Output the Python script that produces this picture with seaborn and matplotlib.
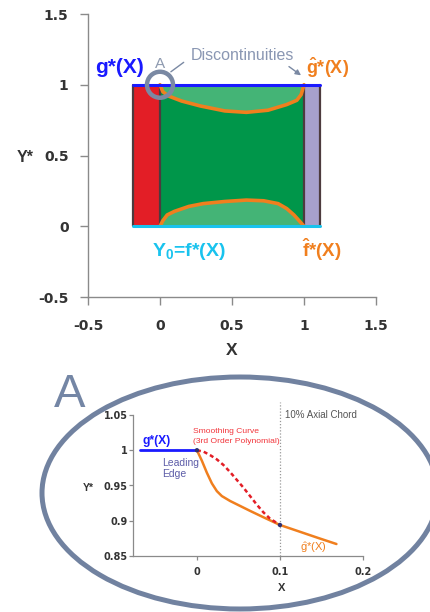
import numpy as np
import pandas as pd
import matplotlib
matplotlib.use("Agg")
import matplotlib.pyplot as plt
from matplotlib.patches import Rectangle, Ellipse
import seaborn as sns

# ---------------- data ----------------
# main panel: upper smoothed contour g-hat*(X)
ghat_x = [0.0, 0.02, 0.06, 0.15, 0.28, 0.45, 0.6, 0.75, 0.88, 0.95, 0.98, 1.0]
ghat_y = [1.0, 0.95, 0.92, 0.885, 0.85, 0.815, 0.805, 0.82, 0.86, 0.89, 0.93, 1.0]
# lower smoothed contour f-hat*(X)
fhat_x = [0.0, 0.02, 0.05, 0.1, 0.2, 0.3, 0.45, 0.6, 0.72, 0.82, 0.88, 0.93, 0.97, 1.0]
fhat_y = [0.0, 0.04, 0.08, 0.105, 0.14, 0.16, 0.175, 0.185, 0.18, 0.16, 0.125, 0.08, 0.035, 0.0]
# domain regions (x extents)
region_x = [-0.19, 0.0, 1.0, 1.11]
main_ticks = [-0.5, 0, 0.5, 1, 1.5]
main_ticklabels = ["-0.5", "0", "0.5", "1", "1.5"]

# inset A
blue_in_x = [-0.068, 0.0]
blue_in_y = [1.0, 1.0]
ghat_in_x = [0.0, 0.006, 0.012, 0.018, 0.024, 0.03, 0.04, 0.052, 0.064, 0.08, 0.1, 0.12, 0.145, 0.168]
ghat_in_y = [1.0, 0.985, 0.968, 0.953, 0.942, 0.935, 0.928, 0.921, 0.914, 0.905, 0.894, 0.886, 0.876, 0.867]
smooth_x = [0.0, 0.008, 0.016, 0.024, 0.032, 0.04, 0.048, 0.056, 0.064, 0.072, 0.08, 0.088, 0.1]
smooth_y = [1.0, 0.998, 0.993, 0.987, 0.979, 0.969, 0.958, 0.947, 0.935, 0.923, 0.912, 0.903, 0.894]
knot_x = [0.0, 0.1]
knot_y = [1.0, 0.894]
inset_xticks = [0, 0.1, 0.2]
inset_xticklabels = ["0", "0.1", "0.2"]
inset_yticks = [0.85, 0.9, 0.95, 1.0, 1.05]
inset_yticklabels = ["0.85", "0.9", "0.95", "1", "1.05"]

# ---------------- style ----------------
sns.set_style("ticks")
plt.rcParams["font.family"] = ["Liberation Sans", "DejaVu Sans"]
plt.rcParams["mathtext.default"] = "regular"
TICKFONT = "DejaVu Sans"

BLUE = "#1a1aff"
CYAN = "#19c3ee"
ORANGE = "#f07f1e"
RED = "#e31e26"
GREEN = "#00964a"
LGREEN = "#44b476"
PURPLE = "#a7a0cc"
EDGE = "#4d3b3e"
GRAYBLUE = "#7a89a3"
SPINE = "#8a8a8a"
TXT = "#333333"

fig = plt.figure(figsize=(4.31, 6.12), dpi=100)

# ---------------- main panel ----------------
ax = fig.add_axes([88 / 431, 1 - 297 / 612, 288 / 431, 283 / 612])
ax.set_xlim(-0.5, 1.5)
ax.set_ylim(-0.5, 1.5)

ax.add_patch(Rectangle((region_x[0], 0), region_x[1] - region_x[0], 1, facecolor=RED, edgecolor="none", zorder=1))
ax.add_patch(Rectangle((region_x[1], 0), region_x[2] - region_x[1], 1, facecolor=GREEN, edgecolor="none", zorder=1))
ax.add_patch(Rectangle((region_x[2], 0), region_x[3] - region_x[2], 1, facecolor=PURPLE, edgecolor="none", zorder=1))
ax.fill_between(ghat_x, ghat_y, 1.0, color=LGREEN, lw=0, zorder=2)
ax.fill_between(fhat_x, 0.0, fhat_y, color=LGREEN, lw=0, zorder=2)
for xv in region_x:
    ax.plot([xv, xv], [0, 1], color=EDGE, lw=1.6, zorder=3)

sns.lineplot(x=ghat_x, y=ghat_y, sort=False, ax=ax, color=ORANGE, lw=2.6, zorder=4)
sns.lineplot(x=fhat_x, y=fhat_y, sort=False, ax=ax, color=ORANGE, lw=2.6, zorder=4)
sns.lineplot(x=[region_x[0], region_x[3]], y=[1, 1], ax=ax, color=BLUE, lw=2.2, zorder=5)
sns.lineplot(x=[region_x[0], region_x[3]], y=[0, 0], ax=ax, color=CYAN, lw=2.2, zorder=5)

ax.add_patch(Ellipse((0, 1), 26 / 144, 26 / 141.5, facecolor="none", edgecolor=GRAYBLUE, lw=3.2, zorder=6))

ax.text(-0.28, 1.125, "g*(X)", color=BLUE, fontsize=15, fontweight="bold", ha="center", va="center")
ax.text(0.0, 1.15, "A", color="#8e9ab0", fontsize=11, ha="center", va="center")
ax.text(0.57, 1.205, "Discontinuities", color="#8a97b3", fontsize=11.5, ha="center", va="center")
ax.annotate("", xy=(0.06, 1.08), xytext=(0.18, 1.17),
            arrowprops=dict(arrowstyle="-", color=GRAYBLUE, lw=1.0))
ax.annotate("", xy=(0.995, 1.055), xytext=(0.88, 1.14),
            arrowprops=dict(arrowstyle="-|>", color=GRAYBLUE, lw=1.0, mutation_scale=8))
ax.text(1.16, 1.115, r"$\hat{g}$*(X)", color=ORANGE, fontsize=13, fontweight="bold", ha="center", va="center")
ax.text(0.2, -0.175, "Y$_0$=f*(X)", color=CYAN, fontsize=14, fontweight="bold", ha="center", va="center")
ax.text(1.12, -0.165, r"$\hat{f}$*(X)", color=ORANGE, fontsize=13.5, fontweight="bold", ha="center", va="center")

ax.set_xticks(main_ticks)
ax.set_xticklabels(main_ticklabels)
ax.set_yticks(main_ticks)
ax.set_yticklabels(main_ticklabels)
ax.tick_params(axis="both", labelsize=10, colors=SPINE, labelcolor=TXT, length=6, width=1)
ax.tick_params(axis="x", pad=10)
ax.tick_params(axis="y", pad=8)
for lab in ax.get_xticklabels() + ax.get_yticklabels():
    lab.set_fontweight("bold")
    lab.set_family(TICKFONT)
for s in ["top", "right"]:
    ax.spines[s].set_visible(False)
for s in ["left", "bottom"]:
    ax.spines[s].set_color(SPINE)
    ax.spines[s].set_linewidth(1.0)
ax.set_xlabel("X", fontsize=12.5, fontweight="bold", color=TXT, va="center")
ax.xaxis.set_label_coords(0.5, -(350 - 297) / 283)
ax.set_ylabel("Y*", fontsize=11.5, fontweight="bold", color=TXT, rotation=0, va="center", ha="center")
ax.yaxis.set_label_coords((25 - 88) / 288, (297 - 157) / 283)

# ---------------- inset A ----------------
fig.add_artist(Ellipse((240 / 431, 1 - 493 / 612), 396 / 431, 232 / 612, transform=fig.transFigure,
                       facecolor="none", edgecolor="#7182a0", lw=3.6, zorder=0))
fig.text(70 / 431, 1 - 395 / 612, "A", color="#7486a5", fontsize=34, ha="center", va="center")

ai = fig.add_axes([133 / 431, 1 - 556 / 612, 230 / 431, 141 / 612])
ai.patch.set_alpha(0)
ai.set_xlim(-0.077, 0.2)
ai.set_ylim(0.85, 1.05)

ai.axvline(0.1, ymin=0, ymax=1.09, color="#999999", lw=0.9, ls=(0, (1, 1.5)), clip_on=False, zorder=1)
sns.lineplot(x=blue_in_x, y=blue_in_y, ax=ai, color=BLUE, lw=2.0, zorder=3)
sns.lineplot(x=ghat_in_x, y=ghat_in_y, sort=False, ax=ai, color=ORANGE, lw=1.8, zorder=3)
sns.lineplot(x=smooth_x, y=smooth_y, sort=False, ax=ai, color=RED, lw=1.8, ls=(0, (1.6, 1.2)), zorder=4)
sns.scatterplot(x=knot_x, y=knot_y, ax=ai, color="#303070", s=10, zorder=5, edgecolor="none")

ai.text(0.1055, 1.05, "10% Axial Chord", color="#555555", fontsize=7, ha="left", va="center")
ai.text(-0.005, 1.026, "Smoothing Curve", color="#f2343a", fontsize=6.1, ha="left", va="center")
ai.text(-0.005, 1.0125, "(3rd Order Polynomial)", color="#f2343a", fontsize=6.1, ha="left", va="center")
ai.text(-0.066, 1.0125, "g*(X)", color=BLUE, fontsize=8.7, fontweight="bold", ha="left", va="center")
ai.text(-0.042, 0.974, "Leading\nEdge", color="#5d5da8", fontsize=7.5, ha="left", va="center", linespacing=1.1)
ai.text(0.124, 0.862, r"$\hat{g}$*(X)", color=ORANGE, fontsize=8, ha="left", va="center")

ai.set_xticks(inset_xticks)
ai.set_xticklabels(inset_xticklabels)
ai.set_yticks(inset_yticks)
ai.set_yticklabels(inset_yticklabels)
ai.tick_params(axis="both", labelsize=7, colors=SPINE, labelcolor=TXT, length=3, width=0.9)
ai.tick_params(axis="x", pad=5)
ai.tick_params(axis="y", pad=1)
for lab in ai.get_xticklabels() + ai.get_yticklabels():
    lab.set_fontweight("bold")
    lab.set_family(TICKFONT)
for s in ["top", "right"]:
    ai.spines[s].set_visible(False)
for s in ["left", "bottom"]:
    ai.spines[s].set_color(SPINE)
    ai.spines[s].set_linewidth(0.9)
ai.set_xlabel("X", fontsize=8, fontweight="bold", color=TXT, va="center")
ai.xaxis.set_label_coords((282 - 133) / 230, -(588 - 556) / 141)
ai.set_ylabel("Y*", fontsize=7.5, fontweight="bold", color=TXT, rotation=0, va="center", ha="center")
ai.yaxis.set_label_coords((88 - 133) / 230, (556 - 488) / 141)

fig.savefig("out.png", dpi=100)
